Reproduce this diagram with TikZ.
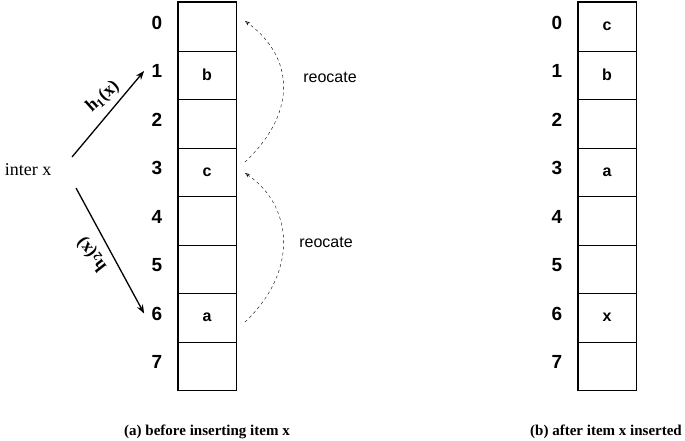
\documentclass[tikz,border=0pt]{standalone}
\usepackage{fontspec}
\setmainfont{Liberation Serif}
\setsansfont{Liberation Sans}
\usetikzlibrary{arrows.meta, positioning}

\begin{document}
\begin{tikzpicture}[
    x=1pt, y=-1pt,
    >=Stealth,
    % table cells
    cell/.style={draw, line width=0.5pt, minimum width=58pt, minimum height=48.5pt, inner sep=0pt, font=\sffamily\bfseries\fontsize{16}{16}\selectfont},
    idx/.style={font=\sffamily\bfseries\fontsize{19}{19}\selectfont},
    hash_arrow/.style={->, line width=1.3pt},
    hash_label/.style={font=\bfseries\fontsize{18}{18}\selectfont},
    move_arrow/.style={->, dashed, thin, >={Stealth[open,length=5pt]}},
    note/.style={font=\sffamily\fontsize{16}{16}\selectfont},
    caption/.style={font=\bfseries\fontsize{15}{15}\selectfont}
]
\useasboundingbox (0,0) rectangle (685,440);

% ==================== left table ====================
\foreach \i/\t in {0/,1/b,2/,3/c,4/,5/,6/a,7/} {
    \node[cell] (L\i) at (207, 26.5+48.5*\i) {\t};
    \node[idx, left=12pt of L\i.west, yshift=4pt] (LI\i) {\i};
}
\draw[line width=1.3pt] (L0.north west) rectangle (L7.south east);

% ==================== right table ====================
\foreach \i/\t in {0/c,1/b,2/,3/a,4/,5/,6/x,7/} {
    \node[cell] (R\i) at (607, 26.5+48.5*\i) {\t};
    \node[idx, left=12pt of R\i.west, yshift=4pt] (RI\i) {\i};
}
\draw[line width=1.3pt] (R0.north west) rectangle (R7.south east);

% ==================== hashing ====================
\node[font=\fontsize{18}{18}\selectfont] (X) at (28,170) {inter x};
\coordinate (H1s) at (72,157);
\coordinate (H2s) at (76,188);
\draw[hash_arrow] (H1s) -- ([xshift=-4pt]LI1.west);
\draw[hash_arrow] (H2s) -- ([xshift=-4pt]LI6.west);
\node[hash_label, rotate=42] (HL1) at (103,97) {h$_{\mathbf{1}}$(x)};
\node[hash_label, rotate=128] (HL2) at (92,254) {h$_{\mathbf{2}}$(x)};

% ==================== relocation ====================
\coordinate (A6) at (245,322);
\coordinate (C3) at (245,173);
\coordinate (C3o) at (245,162);
\coordinate (B0) at (245,21);
\draw[move_arrow] (A6) .. controls (300,270) and (292,205) .. (C3);
\draw[move_arrow] (C3o) .. controls (300,110) and (292,55) .. (B0);
\node[note] (N1) at (330,77) {reocate};
\node[note] (N2) at (326,242) {reocate};

% ==================== captions ====================
\node[caption] (CA) at (207,432) {(a) before inserting item x};
\node[caption] (CB) at (606,432) {(b) after item x inserted};
\end{tikzpicture}
\end{document}
